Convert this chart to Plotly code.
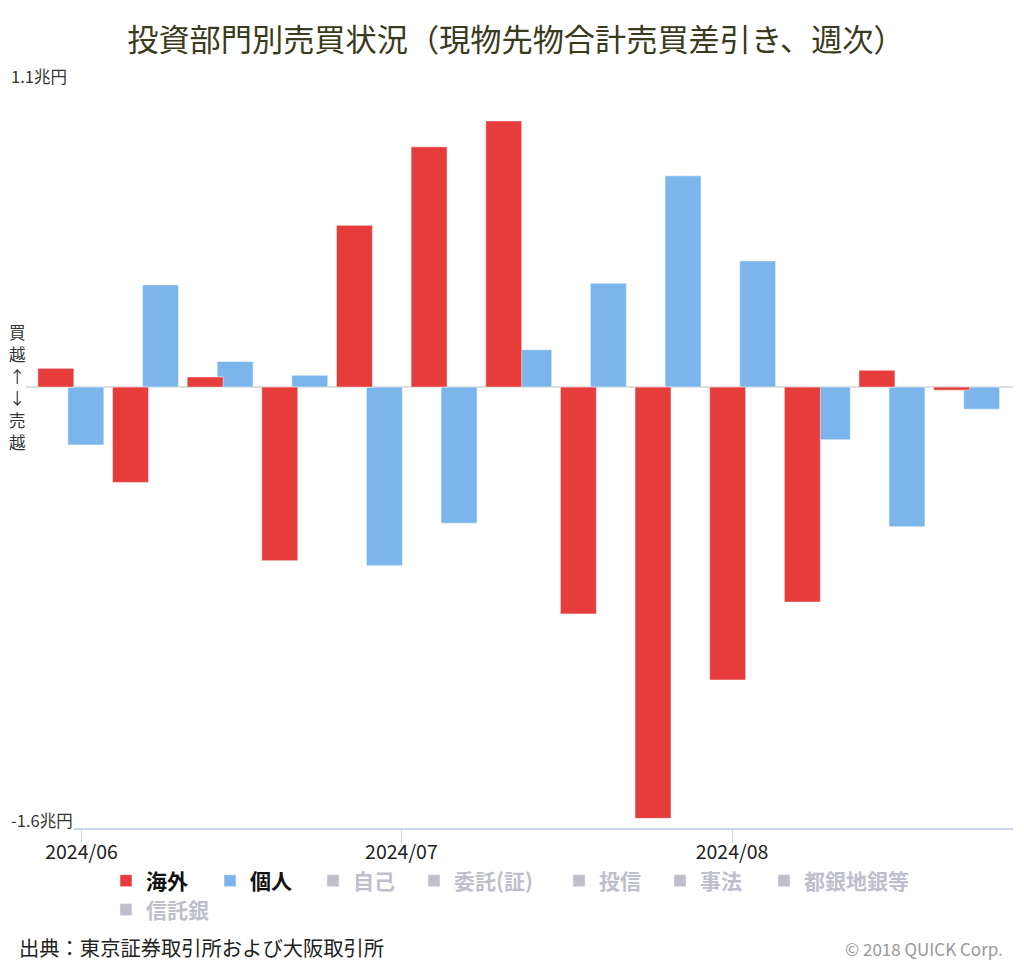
import plotly.graph_objects as go

# ---- data ----
week_dates = ["2024-05-31", "2024-06-07", "2024-06-14", "2024-06-21", "2024-06-28",
              "2024-07-05", "2024-07-12", "2024-07-19", "2024-07-26", "2024-08-02",
              "2024-08-09", "2024-08-16", "2024-08-23"]
overseas = [0.068, -0.346, 0.037, -0.630, 0.587, 0.872, 0.966, -0.823, -1.565, -1.063, -0.780, 0.061, -0.011]
individual = [-0.210, 0.371, 0.093, 0.043, -0.648, -0.494, 0.136, 0.377, 0.767, 0.458, -0.191, -0.507, -0.080]
hidden_series = ["自己", "委託(証)", "投信", "事法", "都銀地銀等", "信託銀"]
y_range = [-1.6, 1.1]
y_tick_labels = ["-1.6兆円", "1.1兆円"]
title_text = "投資部門別売買状況（現物先物合計売買差引き、週次）"
source_text = "出典：東京証券取引所および大阪取引所"
credit_text = "© 2018 QUICK Corp."
side_chars = ["買", "越", "↑", "↓", "売", "越"]

FONT = "Noto Sans CJK JP, Noto Sans, sans-serif"
RED = "#e63c3c"
BLUE = "#7cb5ec"
GREY_HIDDEN = "#808098"

W, H = 1024, 964
L, R, T, B = 26, 11, 84, 136
PW = W - L - R
PH = H - T - B

DAY = 86400000
bar_w = 3.376 * DAY

def px_to_paper_x(px):
    return (px - L) / PW

def px_to_paper_y(py):
    return (H - B - py) / PH

fig = go.Figure()

# blue first (drawn underneath), red on top
fig.add_trace(go.Bar(
    x=week_dates, y=individual, name="個人",
    marker=dict(color=BLUE, line=dict(color="rgba(255,255,255,0.5)", width=1)),
    width=bar_w, offset=-0.281 * DAY, legend="legend2",
))
fig.add_trace(go.Bar(
    x=week_dates, y=overseas, name="海外",
    marker=dict(color=RED, line=dict(color="rgba(255,255,255,0.5)", width=1)),
    width=bar_w, offset=-3.094 * DAY, legend="legend",
))

legend_centers = [(131, 881), (235, 881), (338, 881), (439, 881), (584, 881), (685, 881), (789, 881), (131, 910)]
for i, name in enumerate(hidden_series):
    fig.add_trace(go.Bar(
        x=[None], y=[None], name=name, visible="legendonly",
        marker=dict(color=GREY_HIDDEN), legend=f"legend{i + 3}",
    ))

legend_layouts = {}
for i, (cx, cy) in enumerate(legend_centers):
    key = "legend" if i == 0 else f"legend{i + 1}"
    color = "#111111" if i < 2 else GREY_HIDDEN
    legend_layouts[key] = dict(
        x=px_to_paper_x(cx - 25), y=px_to_paper_y(cy),
        xanchor="left", yanchor="middle",
        orientation="h", bgcolor="rgba(0,0,0,0)",
        font=dict(family=FONT, size=21, color=color, weight="bold"),
        itemwidth=30, tracegroupgap=0,
    )

fig.update_layout(
    width=W, height=H,
    margin=dict(l=L, r=R, t=T, b=B, autoexpand=False),
    paper_bgcolor="white", plot_bgcolor="white",
    barmode="overlay",
    title=dict(text=title_text, x=516 / W, xref="container", xanchor="center",
               y=1 - 40 / H, yref="container", yanchor="middle",
               font=dict(family=FONT, size=31.2, color="#3a3a20")),
    showlegend=True,
    **legend_layouts,
)

fig.update_xaxes(
    type="date",
    range=["2024-05-26 19:06", "2024-08-27 08:24"],
    tick0="2024-06-01", dtick="M1", tickformat="%Y/%m",
    ticks="outside", ticklen=13, tickcolor="#ccd6eb", tickwidth=1,
    ticklabelstandoff=-7,
    showline=True, linecolor="#ccd6eb", linewidth=2,
    showgrid=False, zeroline=False,
    tickfont=dict(family=FONT, size=19.5, color="#222222"),
)
fig.update_yaxes(
    range=y_range, tickvals=y_range, showticklabels=False,
    showgrid=True, gridcolor="#e6e6e6", gridwidth=1,
    zeroline=True, zerolinecolor="#dedede", zerolinewidth=2,
    showline=False, ticks="",
)

for val, lab in zip(y_range, y_tick_labels):
    fig.add_annotation(
        text=lab, xref="paper", yref="y", x=px_to_paper_x(10), y=val,
        xanchor="left", yanchor="bottom", yshift=-5, showarrow=False,
        bgcolor="white", borderpad=0,
        font=dict(family=FONT, size=16.5, color="#333333"),
    )

n = len(side_chars)
for k, ch in enumerate(side_chars):
    fig.add_annotation(
        text=ch, xref="paper", yref="y", x=px_to_paper_x(17), y=0,
        yshift=(n - 1) / 2 * 22 - k * 22,
        xanchor="center", yanchor="middle", showarrow=False, borderpad=0,
        font=dict(family=FONT, size=16.5, color="#333333"),
    )

fig.add_annotation(
    text=source_text, xref="paper", yref="paper",
    x=px_to_paper_x(17), y=px_to_paper_y(947),
    xanchor="left", yanchor="middle", showarrow=False,
    font=dict(family=FONT, size=20.3, color="#222222"),
)
fig.add_annotation(
    text=credit_text, xref="paper", yref="paper",
    x=px_to_paper_x(1005), y=px_to_paper_y(948),
    xanchor="right", yanchor="middle", showarrow=False,
    font=dict(family=FONT, size=17, color="#999999"),
)

fig.write_html("out.html", config={"displayModeBar": False},
               post_script="document.body.style.margin='0px';")
